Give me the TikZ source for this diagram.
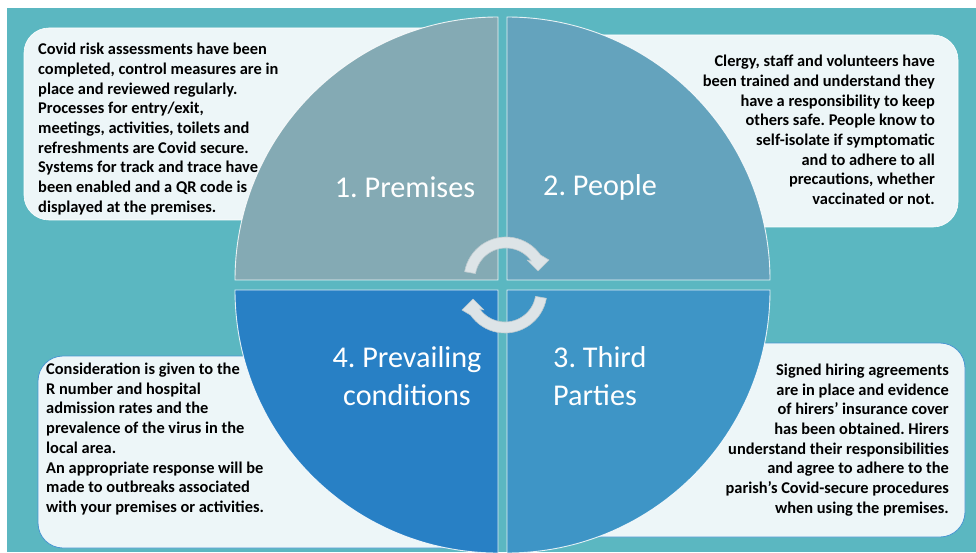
\documentclass[tikz,border=0pt]{standalone}
\usepackage{fontspec}
\setmainfont{Carlito}
\frenchspacing
\usetikzlibrary{calc}
\definecolor{bgteal}{RGB}{91,183,193}
\definecolor{boxfill}{RGB}{237,246,248}
\definecolor{boxlineb}{RGB}{74,150,210}
\definecolor{qone}{RGB}{132,170,180}
\definecolor{qtwo}{RGB}{100,163,189}
\definecolor{qthree}{RGB}{62,149,198}
\definecolor{qfour}{RGB}{40,128,197}
\definecolor{arrfill}{RGB}{221,228,231}
\definecolor{arrline}{RGB}{190,203,208}
\tikzset{
  x=1pt, y=1pt,
  infobox/.style={fill=boxfill, rounded corners=25pt},
  quad/.style={draw=white, draw opacity=0.85, line width=0.9pt},
  boxtext/.style={font=\fontsize{16.4}{19.7}\selectfont\bfseries\frenchspacing, text=black, inner sep=0pt},
  quadlabel/.style={font=\fontsize{30.2}{38}\selectfont, text=white, inner sep=0pt},
  cyc/.style={fill=arrfill, draw=arrline, line width=0.6pt, line join=round}
}
\begin{document}
\begin{tikzpicture}
\useasboundingbox (0,0) rectangle (976,552);
% background
\fill[bgteal] (7,0) rectangle (976,544);
% info boxes
\draw[infobox, draw=white, line width=0.6pt] (24,332) rectangle (480,524);
\draw[infobox, draw=white, line width=0.6pt] (520,325) rectangle (958,517);
\draw[infobox, draw=boxlineb, line width=0.8pt] (38,4) rectangle (480,196);
\draw[infobox, draw=boxlineb, line width=0.8pt] (520,15) rectangle (965,209);
% quadrants
\begin{scope}
\clip (0,0) rectangle (976,552);
\draw[quad, fill=qone] (498,272) -- (235,272) arc[start angle=180, end angle=90, radius=263] -- cycle;
\draw[quad, fill=qtwo] (507,272) -- (507,535) arc[start angle=90, end angle=0, radius=263] -- cycle;
\draw[quad, fill=qthree] (507,262) -- (770,262) arc[start angle=0, end angle=-90, radius=263] -- cycle;
\draw[quad, fill=qfour] (498,262) -- (498,-1) arc[start angle=270, end angle=180, radius=263] -- cycle;
\end{scope}
% quadrant labels
\node[quadlabel] (l1) at (405,365) {1. Premises};
\node[quadlabel] (l2) at (600,365) {2. People};
\node[quadlabel, anchor=west, align=left] (l3) at (553,176) {3. Third\\Parties};
\node[quadlabel, align=center] (l4) at (407,176) {4. Prevailing\\conditions};
% cycle arrows
\coordinate (c1) at (506,273);
\coordinate (c2) at (505,261);
\draw[cyc] ([shift={(170:42)}]c1) arc[start angle=170, end angle=35, radius=42]
  -- ([shift={(43,19)}]c1) -- ([shift={(32,8)}]c1) -- ([shift={(21,19)}]c1)
  -- ([shift={(35:31)}]c1) arc[start angle=35, end angle=170, radius=31] -- cycle;
\draw[cyc] ([shift={(-10:42)}]c2) arc[start angle=-10, end angle=-145, radius=42]
  -- ([shift={(-43,-19)}]c2) -- ([shift={(-32,-8)}]c2) -- ([shift={(-21,-19)}]c2)
  -- ([shift={(-145:31)}]c2) arc[start angle=-145, end angle=-10, radius=31] -- cycle;
% box texts
\node[boxtext, anchor=west, align=left] (t1) at (38,423) {Covid risk assessments have been\\completed, control measures are in\\place and reviewed regularly.\\Processes for entry/exit,\\meetings, activities, toilets and\\refreshments are Covid secure.\\Systems for track and trace have\\been enabled and a QR code is\\displayed at the premises.};
\node[boxtext, anchor=east, align=right] (t2) at (935,422) {Clergy, staff and volunteers have\\been trained and understand they\\have a responsibility to keep\\others safe. People know to\\self-isolate if symptomatic\\and to adhere to all\\precautions, whether\\vaccinated or not.};
\node[boxtext, anchor=west, align=left] (t3) at (46,113) {Consideration is given to the\\R number and hospital\\admission rates and the\\prevalence of the virus in the\\local area.\\An appropriate response will be\\made to outbreaks associated\\with your premises or activities.};
\node[boxtext, anchor=east, align=right] (t4) at (949,112) {Signed hiring agreements\\are in place and evidence\\of hirers’ insurance cover\\has been obtained. Hirers\\understand their responsibilities\\and agree to adhere to the\\parish’s Covid-secure procedures\\when using the premises.};
\end{tikzpicture}
\end{document}
